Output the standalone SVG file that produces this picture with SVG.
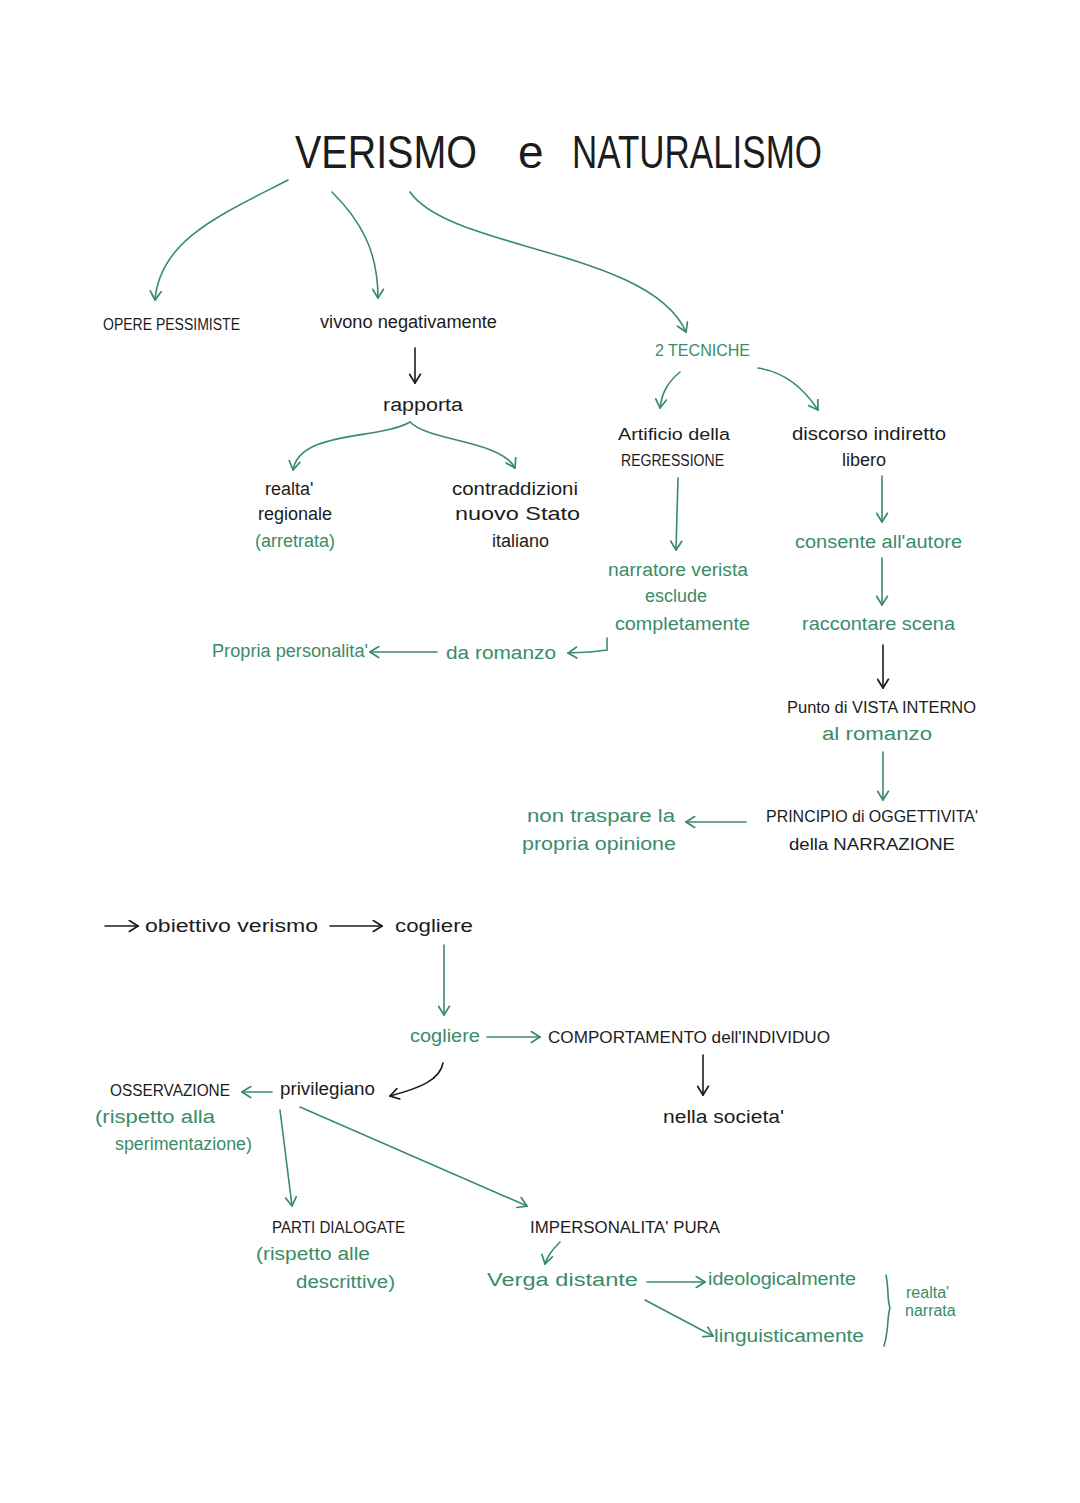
<svg xmlns="http://www.w3.org/2000/svg" width="1080" height="1503" viewBox="0 0 1080 1503">
<style>
text{font-family:"Liberation Sans","DejaVu Sans",sans-serif;font-size:18px}
.k{fill:#1c1c1c}
.g{fill:#3a8c68}
.t{font-size:46px;fill:#1c1c1c}
.s{font-size:16px}
.lg{fill:none;stroke:#3a8c68;stroke-width:1.6;stroke-linecap:round;marker-end:url(#ag)}
.lk{fill:none;stroke:#1c1c1c;stroke-width:1.6;stroke-linecap:round;marker-end:url(#ak)}
.pl{fill:none;stroke:#3a8c68;stroke-width:1.6;stroke-linecap:round}
</style>
<defs>
<marker id="ag" viewBox="0 0 10 12" refX="9" refY="6" markerWidth="11" markerHeight="13" markerUnits="userSpaceOnUse" orient="auto"><path d="M1,1 L9,6 L1,11" fill="none" stroke="#3a8c68" stroke-width="1.6" stroke-linecap="round"/></marker>
<marker id="ak" viewBox="0 0 10 12" refX="9" refY="6" markerWidth="11" markerHeight="13" markerUnits="userSpaceOnUse" orient="auto"><path d="M1,1 L9,6 L1,11" fill="none" stroke="#1c1c1c" stroke-width="1.6" stroke-linecap="round"/></marker>
</defs>
<rect width="1080" height="1503" fill="#fff"/>

<g id="title"><text class="t" x="295" y="168" textLength="182" lengthAdjust="spacingAndGlyphs">VERISMO</text><text class="t" x="518" y="168">e</text><text class="t" x="572" y="168" textLength="250" lengthAdjust="spacingAndGlyphs">NATURALISMO</text></g>

<g id="connectors">
<path class="lg" d="M288,180 C220,215 160,240 155,300"/>
<path class="lg" d="M332,192 C360,220 378,250 378,298"/>
<path class="lg" d="M410,192 C450,250 650,250 686,332"/>
<path class="lk" d="M415,348 L415,383"/>
<path class="lg" d="M410,422 C380,440 300,430 293,470"/>
<path class="lg" d="M410,422 C430,442 500,440 515,468"/>
<path class="lg" d="M680,372 C668,382 662,392 660,408"/>
<path class="lg" d="M758,368 C785,372 805,390 818,410"/>
<path class="lg" d="M678,478 L676,550"/>
<path class="pl" d="M607,638 L607,650 L590,652"/>
<path class="lg" d="M590,652 L568,653"/>
<path class="lg" d="M437,652 L370,652"/>
<path class="lg" d="M882,476 L882,522"/>
<path class="lg" d="M882,558 L882,605"/>
<path class="lk" d="M883,645 L883,688"/>
<path class="lg" d="M883,752 L883,800"/>
<path class="lg" d="M746,822 L686,822"/>
<path class="lk" d="M105,926 L138,926"/>
<path class="lk" d="M330,926 L382,926"/>
<path class="lg" d="M444,945 L444,1015"/>
<path class="lg" d="M487,1037 L540,1037"/>
<path class="lk" d="M703,1055 L703,1095"/>
<path class="lk" d="M443,1063 C440,1080 420,1088 390,1096"/>
<path class="lg" d="M272,1092 L242,1092"/>
<path class="lg" d="M280,1110 L292,1206"/>
<path class="lg" d="M300,1107 L527,1206"/>
<path class="lg" d="M560,1242 C552,1250 547,1256 545,1264"/>
<path class="lg" d="M647,1282 L705,1282"/>
<path class="lg" d="M645,1300 L713,1336"/>
<path class="pl" d="M886,1275 C889,1290 887,1300 890,1308 C887,1316 889,1330 884,1346"/>
</g>

<g id="n-opere"><text class="k s" x="103" y="330" textLength="137" lengthAdjust="spacingAndGlyphs">OPERE PESSIMISTE</text></g>
<g id="n-vivono"><text class="k" x="320" y="328" textLength="177" lengthAdjust="spacingAndGlyphs">vivono negativamente</text></g>
<g id="n-rapporta"><text class="k" x="383" y="411" textLength="80" lengthAdjust="spacingAndGlyphs">rapporta</text></g>
<g id="n-realta"><text class="k" x="265" y="495">realta'</text><text class="k" x="258" y="520">regionale</text><text class="g" x="255" y="547">(arretrata)</text></g>
<g id="n-contraddizioni"><text class="k" x="452" y="495" textLength="126" lengthAdjust="spacingAndGlyphs">contraddizioni</text><text class="k" x="455" y="520" textLength="125" lengthAdjust="spacingAndGlyphs">nuovo Stato</text><text class="k" x="492" y="547">italiano</text></g>
<g id="n-tecniche"><text class="g s" x="655" y="356" textLength="95" lengthAdjust="spacingAndGlyphs">2 TECNICHE</text></g>
<g id="n-artificio"><text class="k s" x="618" y="440" textLength="112" lengthAdjust="spacingAndGlyphs">Artificio della</text><text class="k s" x="621" y="466" textLength="103" lengthAdjust="spacingAndGlyphs">REGRESSIONE</text></g>
<g id="n-discorso"><text class="k" x="792" y="440" textLength="154" lengthAdjust="spacingAndGlyphs">discorso indiretto</text><text class="k" x="842" y="466">libero</text></g>
<g id="n-narratore"><text class="g" x="608" y="576" textLength="140" lengthAdjust="spacingAndGlyphs">narratore verista</text><text class="g" x="645" y="602">esclude</text><text class="g" x="615" y="630" textLength="135" lengthAdjust="spacingAndGlyphs">completamente</text></g>
<g id="n-daromanzo"><text class="g" x="446" y="659" textLength="110" lengthAdjust="spacingAndGlyphs">da romanzo</text></g>
<g id="n-personalita"><text class="g" x="212" y="657" textLength="156" lengthAdjust="spacingAndGlyphs">Propria personalita'</text></g>
<g id="n-consente"><text class="g" x="795" y="548" textLength="167" lengthAdjust="spacingAndGlyphs">consente all'autore</text></g>
<g id="n-raccontare"><text class="g" x="802" y="630" textLength="153" lengthAdjust="spacingAndGlyphs">raccontare scena</text></g>
<g id="n-punto"><text class="k s" x="787" y="713" textLength="189" lengthAdjust="spacingAndGlyphs">Punto di VISTA INTERNO</text><text class="g" x="822" y="740" textLength="110" lengthAdjust="spacingAndGlyphs">al romanzo</text></g>
<g id="n-principio"><text class="k s" x="766" y="822" textLength="212" lengthAdjust="spacingAndGlyphs">PRINCIPIO di OGGETTIVITA'</text><text class="k s" x="789" y="850" textLength="166" lengthAdjust="spacingAndGlyphs">della NARRAZIONE</text></g>
<g id="n-trasparire"><text class="g" x="527" y="822" textLength="148" lengthAdjust="spacingAndGlyphs">non traspare la</text><text class="g" x="522" y="850" textLength="154" lengthAdjust="spacingAndGlyphs">propria opinione</text></g>
<g id="n-obiettivo"><text class="k" x="145" y="932" textLength="173" lengthAdjust="spacingAndGlyphs">obiettivo verismo</text></g>
<g id="n-cogliere1"><text class="k" x="395" y="932" textLength="78" lengthAdjust="spacingAndGlyphs">cogliere</text></g>
<g id="n-cogliere2"><text class="g" x="410" y="1042" textLength="70" lengthAdjust="spacingAndGlyphs">cogliere</text></g>
<g id="n-comportamento"><text class="k s" x="548" y="1043" textLength="282" lengthAdjust="spacingAndGlyphs">COMPORTAMENTO dell'INDIVIDUO</text></g>
<g id="n-societa"><text class="k" x="663" y="1123" textLength="121" lengthAdjust="spacingAndGlyphs">nella societa'</text></g>
<g id="n-privilegiano"><text class="k" x="280" y="1095" textLength="95" lengthAdjust="spacingAndGlyphs">privilegiano</text></g>
<g id="n-osservazione"><text class="k s" x="110" y="1096" textLength="120" lengthAdjust="spacingAndGlyphs">OSSERVAZIONE</text><text class="g" x="95" y="1123" textLength="120" lengthAdjust="spacingAndGlyphs">(rispetto alla</text><text class="g" x="115" y="1150" textLength="137" lengthAdjust="spacingAndGlyphs">sperimentazione)</text></g>
<g id="n-parti"><text class="k s" x="272" y="1233" textLength="133" lengthAdjust="spacingAndGlyphs">PARTI DIALOGATE</text><text class="g" x="256" y="1260" textLength="114" lengthAdjust="spacingAndGlyphs">(rispetto alle</text><text class="g" x="296" y="1288" textLength="99" lengthAdjust="spacingAndGlyphs">descrittive)</text></g>
<g id="n-impersonalita"><text class="k s" x="530" y="1233" textLength="190" lengthAdjust="spacingAndGlyphs">IMPERSONALITA' PURA</text></g>
<g id="n-verga"><text class="g" x="487" y="1286" textLength="151" lengthAdjust="spacingAndGlyphs">Verga distante</text></g>
<g id="n-ideologica"><text class="g" x="708" y="1285" textLength="148" lengthAdjust="spacingAndGlyphs">ideologicalmente</text></g>
<g id="n-linguistica"><text class="g" x="714" y="1342" textLength="150" lengthAdjust="spacingAndGlyphs">linguisticamente</text></g>
<g id="n-realtanarrata"><text class="g s" x="906" y="1298">realta'</text><text class="g s" x="905" y="1316">narrata</text></g>
</svg>
